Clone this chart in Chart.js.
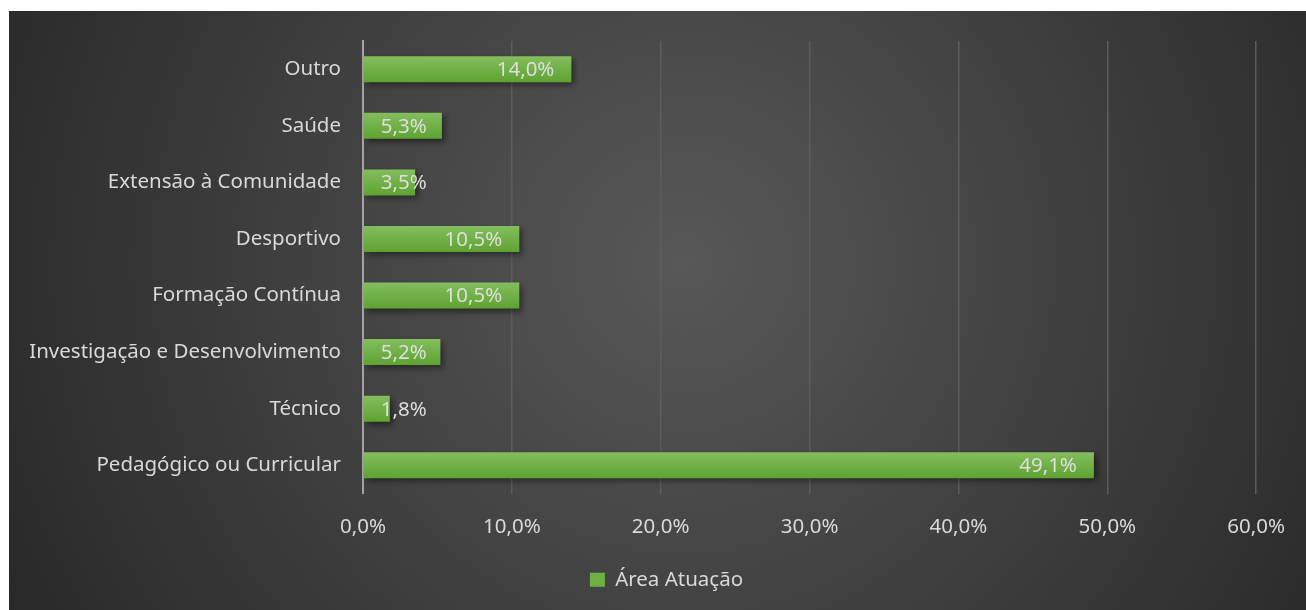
<!DOCTYPE html>
<html>
<head>
<meta charset="utf-8">
<script src="https://cdn.jsdelivr.net/npm/chart.js@4.4.1/dist/chart.umd.min.js"></script>
<style>
  html, body { margin: 0; padding: 0; background: #fff; }
  #wrap { position: absolute; left: 9px; top: 11px; width: 1297px; height: 599px; }
</style>
</head>
<body>
<div id="wrap"><canvas id="grafico"></canvas></div>
<script>
// dados
const categorias = ['Outro', 'Saúde', 'Extensão à Comunidade', 'Desportivo', 'Formação Contínua',
  'Investigação e Desenvolvimento', 'Técnico', 'Pedagógico ou Curricular'];
const valores = [14.0, 5.3, 3.5, 10.5, 10.5, 5.2, 1.8, 49.1];
const serie = 'Área Atuação';
const ticksX = [0, 10, 20, 30, 40, 50, 60];

const fonte = '"Noto Sans", sans-serif';
const tam = 20.5;
const fmt = v => v.toFixed(1).replace('.', ',') + '%';

// fundo escuro com gradiente radial
const fundo = {
  id: 'fundo',
  afterLayout(chart) {
    // legenda um pouco à direita, como no original
    if (chart.legend) { chart.legend.left += 33; chart.legend.right += 33; }
  },
  beforeDraw(chart) {
    const c = chart.ctx, w = chart.width, h = chart.height;
    const g = c.createRadialGradient(w * 0.52, h * 0.42, 0, w * 0.52, h * 0.42, w * 0.62);
    g.addColorStop(0, '#585858');
    g.addColorStop(1, '#262626');
    c.save();
    c.fillStyle = g;
    c.fillRect(0, 0, w, h);
    c.restore();
  }
};

// sombra nas barras
const sombra = {
  id: 'sombra',
  beforeDatasetsDraw(chart) {
    const c = chart.ctx;
    c.save();
    c.shadowColor = 'rgba(0,0,0,0.45)';
    c.shadowBlur = 6;
    c.shadowOffsetX = 3;
    c.shadowOffsetY = 3;
  },
  afterDatasetsDraw(chart) {
    chart.ctx.restore();
  }
};

// rótulos de valor (dentro, no fim)
const rotulos = {
  id: 'rotulos',
  afterDatasetsDraw(chart) {
    const c = chart.ctx;
    const meta = chart.getDatasetMeta(0);
    c.save();
    c.font = tam + 'px ' + fonte;
    c.fillStyle = '#dedede';
    c.textBaseline = 'middle';
    meta.data.forEach((bar, i) => {
      const txt = fmt(valores[i]);
      const tw = c.measureText(txt).width;
      let x = bar.x - 17 - tw;
      if (x < bar.base + 17) x = bar.base + 17;
      c.fillText(txt, x, bar.y + 1);
    });
    c.restore();
  }
};

function corBarra(ctx) {
  const chart = ctx.chart;
  const y = chart.scales && chart.scales.y;
  if (!y || ctx.dataIndex === undefined || !chart.chartArea) return '#6eb043';
  const cy = y.getPixelForTick(ctx.dataIndex);
  const g = chart.ctx.createLinearGradient(0, cy - 13, 0, cy + 13);
  g.addColorStop(0, '#84be5e');
  g.addColorStop(1, '#5ea331');
  return g;
}

new Chart(document.getElementById('grafico'), {
  type: 'bar',
  data: {
    labels: categorias,
    datasets: [{
      label: serie,
      data: valores,
      backgroundColor: corBarra,
      borderWidth: 0,
      categoryPercentage: 0.92,
      barPercentage: 0.5
    }]
  },
  plugins: [fundo, sombra, rotulos],
  options: {
    indexAxis: 'y',
    responsive: true,
    maintainAspectRatio: false,
    animation: false,
    layout: { padding: { top: 30, right: 48, left: 0, bottom: 10 } },
    scales: {
      x: {
        min: 0, max: 60,
        afterBuildTicks(s) { s.ticks = ticksX.map(v => ({ value: v })); },
        afterFit(s) { s.height = 60; },
        grid: { color: '#5d5d5d', lineWidth: 1.5, drawTicks: false },
        border: { display: false },
        ticks: { color: '#d9d9d9', font: { family: fonte, size: tam }, padding: 21,
          callback: v => fmt(v) }
      },
      y: {
        afterFit(s) { s.width = 354; s.paddingTop = 0; s.paddingBottom = 0; },
        grid: { display: false, drawTicks: false },
        border: { display: true, color: '#a3a3a3', width: 2 },
        ticks: { color: '#d9d9d9', font: { family: fonte, size: tam }, padding: 22 }
      }
    },
    plugins: {
      legend: {
        position: 'bottom',
        labels: {
          color: '#d9d9d9',
          font: { family: fonte, size: tam },
          boxWidth: 15, boxHeight: 14,
          padding: 16,
          generateLabels() {
            return [{ text: serie, fillStyle: '#6eb043', strokeStyle: '#6eb043', lineWidth: 0, fontColor: '#d9d9d9' }];
          }
        }
      },
      tooltip: { enabled: false }
    }
  }
});
</script>
</body>
</html>
